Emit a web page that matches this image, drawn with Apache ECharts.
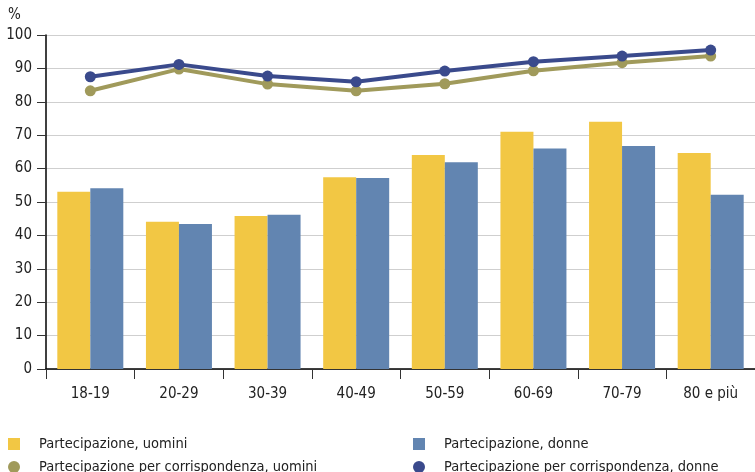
<!DOCTYPE html>
<html><head><meta charset="utf-8">
<script src="https://cdn.jsdelivr.net/npm/echarts@6/dist/echarts.min.js"></script>
<style>html,body{margin:0;padding:0;background:#fff}#c{width:755px;height:472px}</style>
</head><body><div id="c"></div>
<script>
const categories = ['18-19','20-29','30-39','40-49','50-59','60-69','70-79','80 e più'];
const partUomini = [53.1, 44.1, 45.8, 57.4, 64.1, 71.0, 74.0, 64.7];
const partDonne = [54.1, 43.4, 46.2, 57.2, 61.9, 66.0, 66.8, 52.2];
const corrUomini = [83.3, 89.8, 85.3, 83.3, 85.4, 89.3, 91.7, 93.7];
const corrDonne = [87.5, 91.2, 87.7, 86.0, 89.2, 92.0, 93.7, 95.5];
const names = ['Partecipazione, uomini','Partecipazione, donne','Partecipazione per corrispondenza, uomini','Partecipazione per corrispondenza, donne'];
const FONT = '"Liberation Sans Narrow", "DejaVu Sans Condensed", sans-serif';
const chart = echarts.init(document.getElementById('c'));
const legendText = {fontFamily: FONT, fontSize: 14.5, lineHeight: 16, color: '#222', padding: [0,0,0,14]};
chart.setOption({
  animation: false,
  textStyle: {fontFamily: FONT},
  graphic: [{type:'text', left: 8, top: 8, style:{text:'%', font:'15px ' + FONT, fill:'#222'}}],
  legend: [
    {orient:'vertical', left: 8, top: 436, height: 100, padding: 0, itemWidth: 12, itemHeight: 12, itemGap: 7, textStyle: legendText,
     data:[{name:names[0], icon:'rect'},{name:names[2], icon:'circle'}]},
    {orient:'vertical', left: 413, top: 436, height: 100, padding: 0, itemWidth: 12, itemHeight: 12, itemGap: 7, textStyle: legendText,
     data:[{name:names[1], icon:'rect'},{name:names[3], icon:'circle'}]}
  ],
  grid: {left: 46, right: -11, top: 35, bottom: 103, containLabel: false},
  xAxis: {type:'category', data: categories,
    axisLine:{lineStyle:{color:'#000', width:1.5}},
    axisTick:{show:true, length:10, lineStyle:{color:'#333'}},
    axisLabel:{color:'#222', fontSize:15, fontFamily: FONT, margin: 18}},
  yAxis: {type:'value', min:0, max:100, interval:10,
    axisLine:{show:true, lineStyle:{color:'#000', width:1.5}},
    axisTick:{show:true, length:9, lineStyle:{color:'#333'}},
    axisLabel:{color:'#222', fontSize:15, fontFamily: FONT, margin: 14},
    splitLine:{lineStyle:{color:'#cfcfcf', width:1.2}}},
  series: [
    {name:names[0], type:'bar', data: partUomini, barWidth: 33, barGap: '0%', itemStyle:{color:'#F2C744'}},
    {name:names[1], type:'bar', data: partDonne, barWidth: 33, barGap: '0%', itemStyle:{color:'#6285B1'}},
    {name:names[2], type:'line', data: corrUomini, symbol:'circle', symbolSize: 11, lineStyle:{width:4, color:'#A09A5B'}, itemStyle:{color:'#A09A5B'}},
    {name:names[3], type:'line', data: corrDonne, symbol:'circle', symbolSize: 11, lineStyle:{width:4, color:'#3A4A8C'}, itemStyle:{color:'#3A4A8C'}}
  ]
});
</script></body></html>
